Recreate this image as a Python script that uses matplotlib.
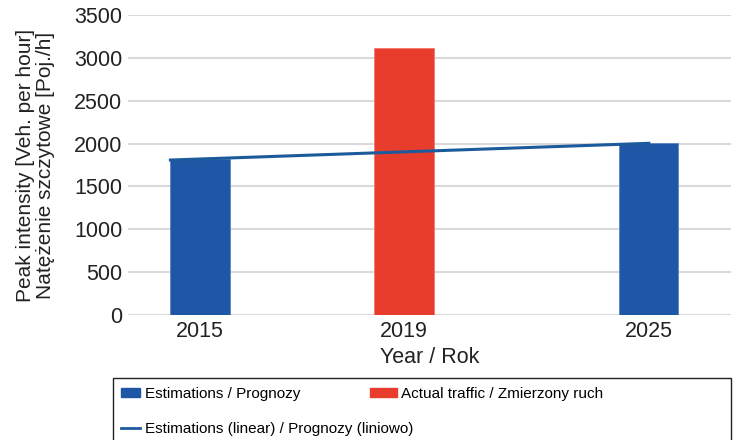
import matplotlib
matplotlib.use("Agg")
import matplotlib.pyplot as plt
from matplotlib.lines import Line2D
from matplotlib.patches import Patch, Rectangle

plt.rcParams['font.family'] = ['Liberation Sans', 'DejaVu Sans']

years = ["2015", "2019", "2025"]
values = [1820, 3115, 2005]
series = ["est", "actual", "est"]
trend_values = [1808, 2003]

colors = {"est": "#1f56a6", "actual": "#e83d2c"}
positions = [0, 1, 2.2]

W, H = 736, 440
fig = plt.figure(figsize=(W/100, H/100), dpi=100)
ax = fig.add_axes([128/W, 1-315/H, (731-128)/W, 300/H])

bw = 0.29
for p, v, s in zip(positions, values, series):
    ax.bar(p, v, width=bw, color=colors[s], edgecolor="#5b86c4" if s == "est" else "#f0796c",
           linewidth=0.6, zorder=2)

ax.plot([positions[0] - bw/2, positions[2]], trend_values, color="#1b5b9c", lw=2.2, zorder=3)

ax.set_xlim(-0.353, 2.603)
ax.set_ylim(0, 3500)
ax.set_yticks(range(0, 3501, 500))
ax.set_xticks(positions)
ax.set_xticklabels(years)
ax.yaxis.grid(True, color="#d9d9d9", lw=1.5, zorder=0)
ax.set_axisbelow(True)
for sp in ax.spines.values():
    sp.set_visible(False)
ax.tick_params(axis='both', length=0, labelsize=15.5, colors="#222222")
ax.tick_params(axis='y', pad=4)
ax.tick_params(axis='x', pad=4)
ax.set_xlabel("Year / Rok", fontsize=15.5, color="#222222", labelpad=4)
ax.set_ylabel("Peak intensity [Veh. per hour]\nNatężenie szczytowe [Poj./h]", fontsize=15,
              color="#222222", labelpad=14, linespacing=1.05)

# legend frame
fig.patches.append(Rectangle((113/W, -0.02), (731-113)/W, (1-378/H) + 0.02,
                             transform=fig.transFigure, fill=False, edgecolor="#222222",
                             lw=1.0))

def entry(handle, label, x, y, hl):
    lg = fig.legend([handle], [label], loc="center left", bbox_to_anchor=(x/W, 1-y/H),
                    frameon=False, fontsize=11, handlelength=hl, handleheight=0.45,
                    handletextpad=0.3, borderpad=0, borderaxespad=0)
    return lg

entry(Patch(color=colors["est"]), "Estimations / Prognozy", 121, 394, 1.25)
entry(Patch(color=colors["actual"]), "Actual traffic / Zmierzony ruch", 370, 394, 1.75)
entry(Line2D([], [], color="#1b5b9c", lw=2), "Estimations (linear) / Prognozy (liniowo)", 121, 429, 1.25)

fig.savefig("out.png", dpi=100)
